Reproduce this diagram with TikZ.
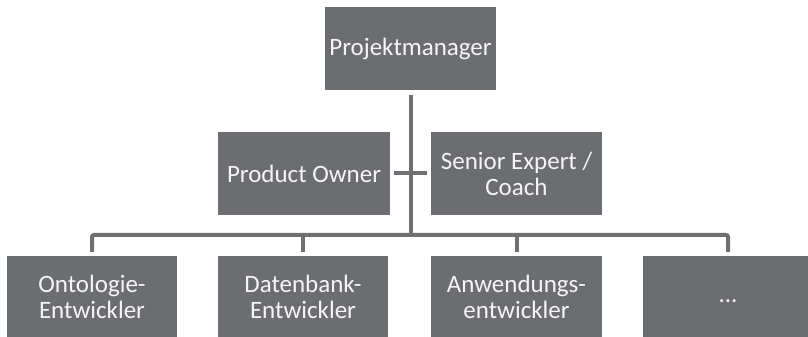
\documentclass[tikz,border=0pt]{standalone}
\usepackage{fontspec}
\setmainfont{Carlito}
\definecolor{boxgray}{RGB}{108,109,113}
\definecolor{linegray}{RGB}{112,112,114}
\begin{document}
\begin{tikzpicture}[x=1pt,y=1pt,
  box/.style={fill=boxgray, text=white!96!black, inner sep=0pt, align=center,
    minimum height=83pt, font=\fontsize{25}{26}\selectfont},
  conn/.style={draw=linegray, line width=4pt}]
\useasboundingbox (0,0) rectangle (808,337);
\node[box, minimum width=171pt] (PM) at (410.5,288.5) {Projektmanager};
\node[box, minimum width=172pt] (PO) at (304,163.5) {Product Owner};
\node[box, minimum width=171pt] (SE) at (516.5,163.5) {Senior Expert /\\Coach};
\node[box, minimum width=170pt, minimum height=81pt] (O) at (92,40.5) {Ontologie-\\Entwickler};
\node[box, minimum width=170pt, minimum height=81pt] (D) at (303,40.5) {Datenbank-\\Entwickler};
\node[box, minimum width=171pt, minimum height=81pt] (A) at (516.5,40.5) {Anwendungs-\\entwickler};
\node[box, minimum width=170pt, minimum height=81pt] (X) at (728,40.5) {\vphantom{Pj}...};
\coordinate (bus) at (410.5,102);
\draw[conn] ([yshift=-5pt]PM.south) -- (PM.south |- bus);
\draw[conn] ([xshift=4pt]PO.east) -- ([xshift=-4pt]SE.west);
\draw[conn, rounded corners=2pt] ([yshift=4pt]O.north) -- (O.north |- bus) -- (X.north |- bus) -- ([yshift=4pt]X.north);
\draw[conn] ([yshift=4pt]D.north) -- (D.north |- bus);
\draw[conn] ([yshift=4pt]A.north) -- (A.north |- bus);
\end{tikzpicture}
\end{document}
